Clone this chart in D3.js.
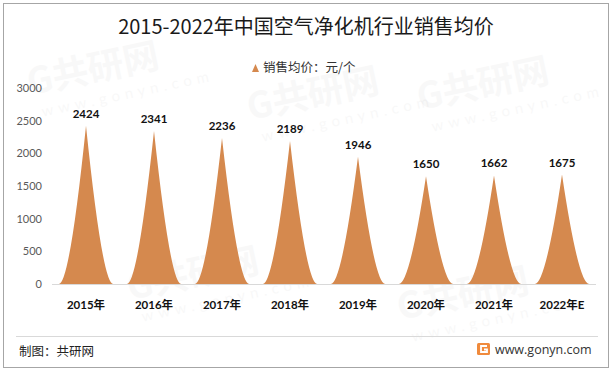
<!DOCTYPE html>
<html>
<head>
<meta charset="utf-8">
<script src="https://cdn.jsdelivr.net/npm/d3@7"></script>
<style>
  body { margin: 0; background: #fff; }
  svg text { font-family: Lato, "Noto Sans CJK SC", sans-serif; }
</style>
</head>
<body>
<div id="chart"></div>
<script>
const years = ['2015年', '2016年', '2017年', '2018年', '2019年', '2020年', '2021年', '2022年E']
const prices = [2424, 2341, 2236, 2189, 1946, 1650, 1662, 1675]
const yTicks = [0, 500, 1000, 1500, 2000, 2500, 3000]

const width = 612, height = 371
const margin = {top: 88, right: 16, bottom: 87, left: 52}

const svg = d3.select('#chart').append('svg')
.attr('width', width)
.attr('height', height)

// frame
svg.append('rect')
.attr('x', 3.5).attr('y', 3.5)
.attr('width', 605).attr('height', 364)
.attr('fill', '#fff')
.attr('stroke', '#a6a6a6')

// faint watermarks
const marks = [[30, 95], [250, 120], [420, 110], [130, 300], [400, 320]]
marks.forEach(m => {
	const g = svg.append('g')
	.attr('transform', `translate(${m[0]},${m[1]}) rotate(-12)`)
	.attr('fill', '#000')
	.attr('opacity', 0.025)
	g.append('text').attr('font-size', 36).attr('font-weight', 'bold')
	.style('font-family', '"Noto Sans CJK SC"').text('G共研网')
	g.append('text').attr('y', 24).attr('x', 8).attr('font-size', 15)
	.attr('letter-spacing', 5).text('www.gonyn.com')
})

const x = d3.scaleBand()
.domain(years)
.range([margin.left, width - margin.right])

const y = d3.scaleLinear()
.domain([0, 3000])
.range([height - margin.bottom, margin.top])

svg.append('text')
.attr('x', 306).attr('y', 34)
.attr('text-anchor', 'middle')
.attr('font-size', 20)
.attr('fill', '#1a1a1a')
.style('font-family', '"Noto Sans CJK SC", sans-serif')
.text('2015-2022年中国空气净化机行业销售均价')

// legend
svg.append('path')
.attr('d', 'M252,72 L255.5,64 L259,72 Z')
.attr('fill', '#d5894e')
svg.append('text')
.attr('x', 263).attr('y', 72)
.attr('font-size', 12.5)
.attr('fill', '#333')
.style('font-family', '"Noto Sans CJK SC", sans-serif')
.text('销售均价：元/个')

// y axis labels
svg.append('g')
.selectAll('text')
.data(yTicks)
.join('text')
.attr('x', 42)
.attr('y', d => y(d) + 4)
.attr('text-anchor', 'end')
.attr('font-size', 11)
.attr('fill', '#595959')
.text(d => d)

// baseline
svg.append('line')
.attr('x1', margin.left).attr('x2', width - margin.right)
.attr('y1', y(0) + 0.5).attr('y2', y(0) + 0.5)
.attr('stroke', '#d9d9d9')

const half = x.bandwidth() * 0.4
const spike = d => {
	const cx = x(d.year) + x.bandwidth() / 2
	const b = y(0), top = y(d.value)
	const k = 0.6 * half
	return `M${cx - half},${b} Q${cx - k},${b} ${cx},${top} Q${cx + k},${b} ${cx + half},${b} Z`
}

const data = years.map((yr, i) => ({year: yr, value: prices[i]}))

svg.append('g')
.selectAll('path')
.data(data)
.join('path')
.attr('d', spike)
.attr('fill', '#d5894e')

svg.append('g')
.selectAll('text')
.data(data)
.join('text')
.attr('x', d => x(d.year) + x.bandwidth() / 2)
.attr('y', d => y(d.value) - 8)
.attr('text-anchor', 'middle')
.attr('font-size', 11.5)
.attr('font-weight', 'bold')
.attr('fill', '#111')
.text(d => d.value)

svg.append('g')
.selectAll('text')
.data(years)
.join('text')
.attr('x', d => x(d) + x.bandwidth() / 2)
.attr('y', 309)
.attr('text-anchor', 'middle')
.attr('font-size', 11.5)
.attr('font-weight', 'bold')
.attr('fill', '#111')
.text(d => d)

// footer
svg.append('line')
.attr('x1', 16).attr('x2', 598)
.attr('y1', 336.5).attr('y2', 336.5)
.attr('stroke', '#d9d9d9')

svg.append('text')
.attr('x', 19).attr('y', 356)
.attr('font-size', 12.5)
.attr('fill', '#222')
.style('font-family', '"Noto Sans CJK SC", sans-serif')
.text('制图：共研网')

const logo = svg.append('g').attr('transform', 'translate(477,343)')
logo.append('rect').attr('width', 13).attr('height', 12).attr('rx', 1.5).attr('fill', '#f08a3c')
logo.append('path').attr('d', 'M10,3 H4 V9 H10 V6.5 H7').attr('fill', 'none').attr('stroke', '#fff').attr('stroke-width', 1.8)

svg.append('text')
.attr('x', 495).attr('y', 354)
.attr('font-size', 12.5)
.attr('fill', '#333')
.style('font-family', '"Open Sans", sans-serif')
.text('www.gonyn.com')
</script>
</body>
</html>
